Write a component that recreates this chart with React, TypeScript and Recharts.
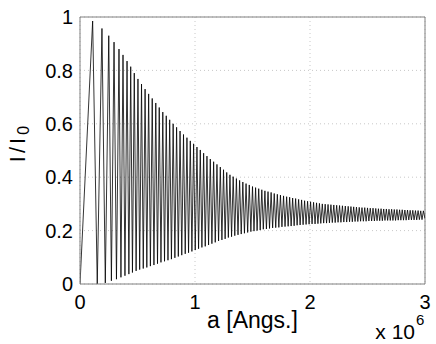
import { LineChart, Line, XAxis, YAxis, CartesianGrid, ReferenceLine, Label } from 'recharts';

// a in units of 1e6 Angstrom
const peakA = [
  0.110, 0.191, 0.250, 0.296, 0.339, 0.374, 0.409, 0.441, 0.472, 0.504,
  0.535, 0.566, 0.597, 0.628, 0.659, 0.689, 0.720, 0.750, 0.780, 0.810,
  0.840, 0.870, 0.900, 0.930, 0.959, 0.988, 1.017, 1.046, 1.075, 1.104,
  1.133, 1.162, 1.191, 1.220, 1.248, 1.276, 1.304, 1.332, 1.360, 1.388,
  1.416, 1.444, 1.472, 1.500, 1.527, 1.554, 1.581, 1.608, 1.635, 1.662,
  1.689, 1.716, 1.743, 1.770, 1.797, 1.823, 1.849, 1.875, 1.901, 1.927,
  1.953, 1.979, 2.005, 2.031, 2.057, 2.082, 2.107, 2.132, 2.157, 2.182,
  2.207, 2.232, 2.257, 2.282, 2.307, 2.332, 2.356, 2.380, 2.404, 2.428,
  2.452, 2.476, 2.500, 2.524, 2.548, 2.572, 2.595, 2.618, 2.641, 2.664,
  2.687, 2.710, 2.733, 2.756, 2.779, 2.802, 2.825, 2.848, 2.871, 2.894,
  2.917, 2.940, 2.963, 2.986,
];
const peakI = [
  0.985, 0.957, 0.930, 0.906, 0.880, 0.858, 0.835, 0.814, 0.790, 0.768,
  0.749, 0.730, 0.712, 0.695, 0.678, 0.661, 0.644, 0.630, 0.615, 0.600,
  0.587, 0.573, 0.560, 0.548, 0.536, 0.525, 0.513, 0.502, 0.490, 0.479,
  0.468, 0.458, 0.448, 0.438, 0.428, 0.418, 0.409, 0.402, 0.395, 0.388,
  0.382, 0.376, 0.371, 0.365, 0.361, 0.357, 0.353, 0.349, 0.346, 0.343,
  0.339, 0.336, 0.333, 0.330, 0.327, 0.325, 0.322, 0.320, 0.317, 0.315,
  0.312, 0.310, 0.308, 0.306, 0.304, 0.302, 0.300, 0.299, 0.298, 0.297,
  0.296, 0.295, 0.294, 0.293, 0.292, 0.291, 0.290, 0.289, 0.288, 0.287,
  0.286, 0.286, 0.285, 0.284, 0.284, 0.283, 0.282, 0.282, 0.281, 0.281,
  0.280, 0.280, 0.279, 0.279, 0.278, 0.278, 0.277, 0.277, 0.276, 0.276,
  0.275, 0.275, 0.274, 0.274,
];
const troughA = [
  0.000,
  0.150, 0.220, 0.273, 0.317, 0.356, 0.391, 0.425, 0.456, 0.488, 0.519,
  0.550, 0.581, 0.612, 0.643, 0.674, 0.704, 0.735, 0.765, 0.795, 0.825,
  0.855, 0.885, 0.915, 0.944, 0.973, 1.002, 1.031, 1.060, 1.089, 1.118,
  1.147, 1.176, 1.205, 1.234, 1.262, 1.290, 1.318, 1.346, 1.374, 1.402,
  1.430, 1.458, 1.486, 1.513, 1.540, 1.567, 1.594, 1.621, 1.648, 1.675,
  1.702, 1.729, 1.756, 1.783, 1.810, 1.836, 1.862, 1.888, 1.914, 1.940,
  1.966, 1.992, 2.018, 2.044, 2.069, 2.094, 2.119, 2.144, 2.169, 2.194,
  2.219, 2.244, 2.269, 2.294, 2.319, 2.344, 2.368, 2.392, 2.416, 2.440,
  2.464, 2.488, 2.512, 2.536, 2.560, 2.583, 2.606, 2.629, 2.652, 2.675,
  2.698, 2.721, 2.744, 2.767, 2.790, 2.813, 2.836, 2.859, 2.882, 2.905,
  2.928, 2.951, 2.974, 3.000,
];
const troughI = [
  0.000,
  0.000, 0.004, 0.012, 0.018, 0.025, 0.031, 0.037, 0.043, 0.049, 0.054,
  0.058, 0.062, 0.067, 0.071, 0.076, 0.081, 0.085, 0.089, 0.093, 0.098,
  0.103, 0.108, 0.113, 0.117, 0.122, 0.127, 0.132, 0.137, 0.141, 0.146,
  0.151, 0.156, 0.161, 0.165, 0.169, 0.174, 0.177, 0.181, 0.184, 0.187,
  0.190, 0.193, 0.196, 0.198, 0.200, 0.202, 0.205, 0.206, 0.208, 0.210,
  0.211, 0.212, 0.214, 0.215, 0.216, 0.217, 0.218, 0.220, 0.221, 0.222,
  0.223, 0.224, 0.225, 0.225, 0.226, 0.227, 0.228, 0.228, 0.229, 0.230,
  0.230, 0.231, 0.231, 0.232, 0.232, 0.233, 0.233, 0.234, 0.234, 0.235,
  0.235, 0.235, 0.236, 0.236, 0.236, 0.237, 0.237, 0.237, 0.238, 0.238,
  0.238, 0.238, 0.238, 0.239, 0.239, 0.239, 0.239, 0.240, 0.240, 0.240,
  0.240, 0.241, 0.241, 0.245,
];

const xTicks = [0, 1, 2, 3];
const yTicks = [0, 0.2, 0.4, 0.6, 0.8, 1];

const data = [
  ...peakA.map((a, i) => ({ a, I: peakI[i] })),
  ...troughA.map((a, i) => ({ a, I: troughI[i] })),
].sort((p, q) => p.a - q.a);

const font = 'Liberation Sans, Arial, Helvetica, sans-serif';
const axisColor = '#808080';

const XLabel = (props: any) => {
  const vb = props.viewBox;
  return (
    <g fontFamily={font} fill='#000'>
      <text x={vb.x + vb.width / 2} y={vb.y + 44} textAnchor='middle' fontSize={23}>
        a [Angs.]
      </text>
      <text x={vb.x + vb.width - 10} y={vb.y + 55} textAnchor='end' fontSize={21}>
        x 10
      </text>
      <text x={vb.x + vb.width - 9} y={vb.y + 41} textAnchor='start' fontSize={15}>
        6
      </text>
    </g>
  );
};

const YLabel = (props: any) => {
  const vb = props.viewBox;
  const cx = vb.x - 13;
  const cy = vb.y + 127;
  return (
    <text
      x={cx}
      y={cy}
      transform={`rotate(-90 ${cx} ${cy})`}
      textAnchor='middle'
      dominantBaseline='central'
      fontFamily={font}
      fontSize={22}
      fill='#000'
    >
      <tspan letterSpacing={3}>I/I</tspan>
      <tspan fontSize={16} dy={6}>0</tspan>
    </text>
  );
};

export default function App() {
  return (
    <div style={{ position: 'absolute', left: 0, top: 0, background: '#fff' }}>
      <LineChart
        width={436}
        height={344}
        data={data}
        margin={{ top: 17, right: 11, bottom: 30, left: 30 }}
      >
        <CartesianGrid stroke='#c8c8c8' strokeDasharray='1 3' />
        <XAxis
          dataKey='a'
          type='number'
          domain={[0, 3]}
          ticks={xTicks}
          height={30}
          tickLine={false}
          tickSize={0}
          tickMargin={11}
          stroke={axisColor}
          tick={{ fill: '#000', fontSize: 20, fontFamily: font }}
          allowDataOverflow
        >
          <Label content={XLabel} />
        </XAxis>
        <YAxis
          type='number'
          domain={[0, 1]}
          ticks={yTicks}
          width={50}
          tickLine={false}
          tickSize={0}
          tickMargin={7}
          stroke={axisColor}
          tick={{ fill: '#000', fontSize: 20, fontFamily: font }}
          allowDataOverflow
        >
          <Label content={YLabel} />
        </YAxis>
        <ReferenceLine y={1} stroke={axisColor} />
        <ReferenceLine x={3} stroke={axisColor} />
        <Line
          type='linear'
          dataKey='I'
          stroke='#000'
          strokeWidth={0.8}
          dot={false}
          activeDot={false}
          isAnimationActive={false}
        />
      </LineChart>
    </div>
  );
}
